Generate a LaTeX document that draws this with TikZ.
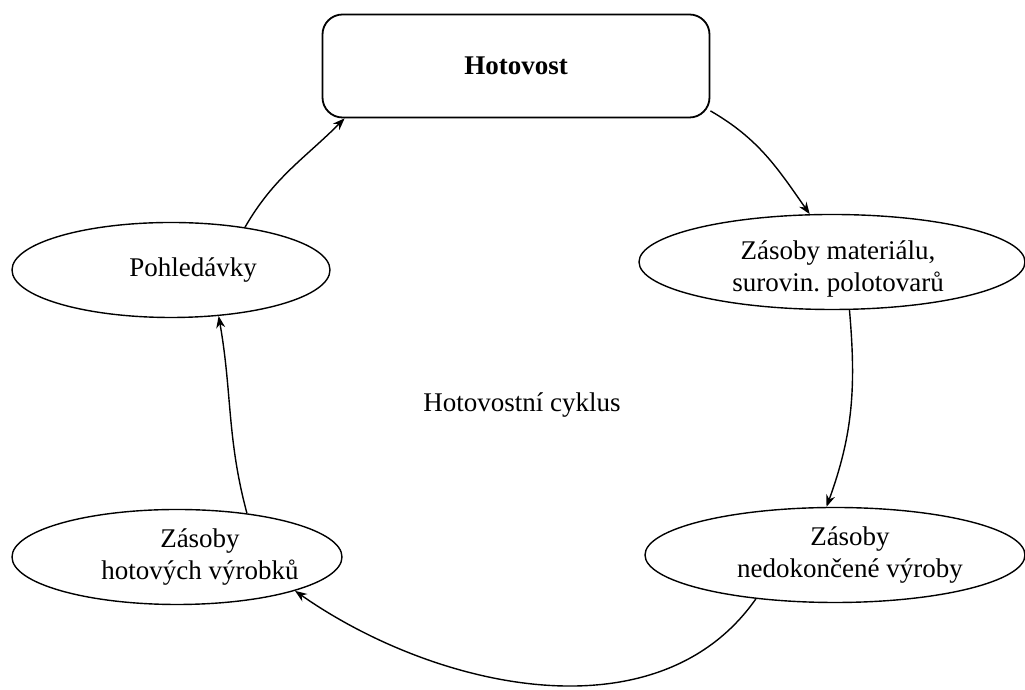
\documentclass[tikz,border=0pt]{standalone}
\usepackage{fontspec}
\setmainfont{Liberation Serif}
\usetikzlibrary{positioning, arrows.meta, shapes.geometric}

\begin{document}
\begin{tikzpicture}[x=0.5pt, y=0.5pt,
        zasoba/.style={ellipse, draw, inner sep=0pt, minimum height=47.5pt, line width=0.7pt},
        popis/.style={align=center, inner sep=0pt, font=\fontsize{13.5}{16}\selectfont},
        tok/.style={-{Stealth[length=6pt, width=4.5pt]}, line width=0.7pt}]
        \useasboundingbox (0,0) rectangle (1025,690);

        % Nodes
        \node[draw, rounded corners=10pt, minimum width=193.5pt, minimum height=51.5pt,
              line width=0.9pt, font=\fontsize{13.5}{16}\selectfont\bfseries] (hot) at (516,624) {Hotovost};
        \node[zasoba, minimum width=193pt] (mat) at (832,428) {};
        \node[zasoba, minimum width=190pt] (ned) at (835,135) {};
        \node[zasoba, minimum width=165pt] (hvy) at (177,133) {};
        \node[zasoba, minimum width=159pt] (poh) at (171,420) {};

        % Texts
        \node[popis, xshift=3pt, yshift=-3.5pt] (matT) at (mat) {Zásoby materiálu,\\surovin.\ polotovarů};
        \node[popis, xshift=7.5pt] (nedT) at (ned) {Zásoby\\nedokončené výroby};
        \node[popis, xshift=11.5pt] (hvyT) at (hvy) {Zásoby\\hotových výrobků};
        \node[popis, xshift=11pt] (pohT) at (poh) {Pohledávky};
        \node[popis] (cyk) at (522,285) {Hotovostní cyklus};

        % Edges
        \draw[tok] (hot.-13) to[out=-30, in=125] (mat.115);
        \draw[tok] (mat.-70) to[out=-85, in=70] (ned.100);
        \draw[tok] (ned.209) to[out=235, in=-35, looseness=0.95] (hvy.-16);
        \draw[tok] (hvy.32) to[out=105, in=-80] (poh.-44);
        \draw[tok] (poh.30) to[out=60, in=225] (hot.197);

    \end{tikzpicture}
\end{document}
